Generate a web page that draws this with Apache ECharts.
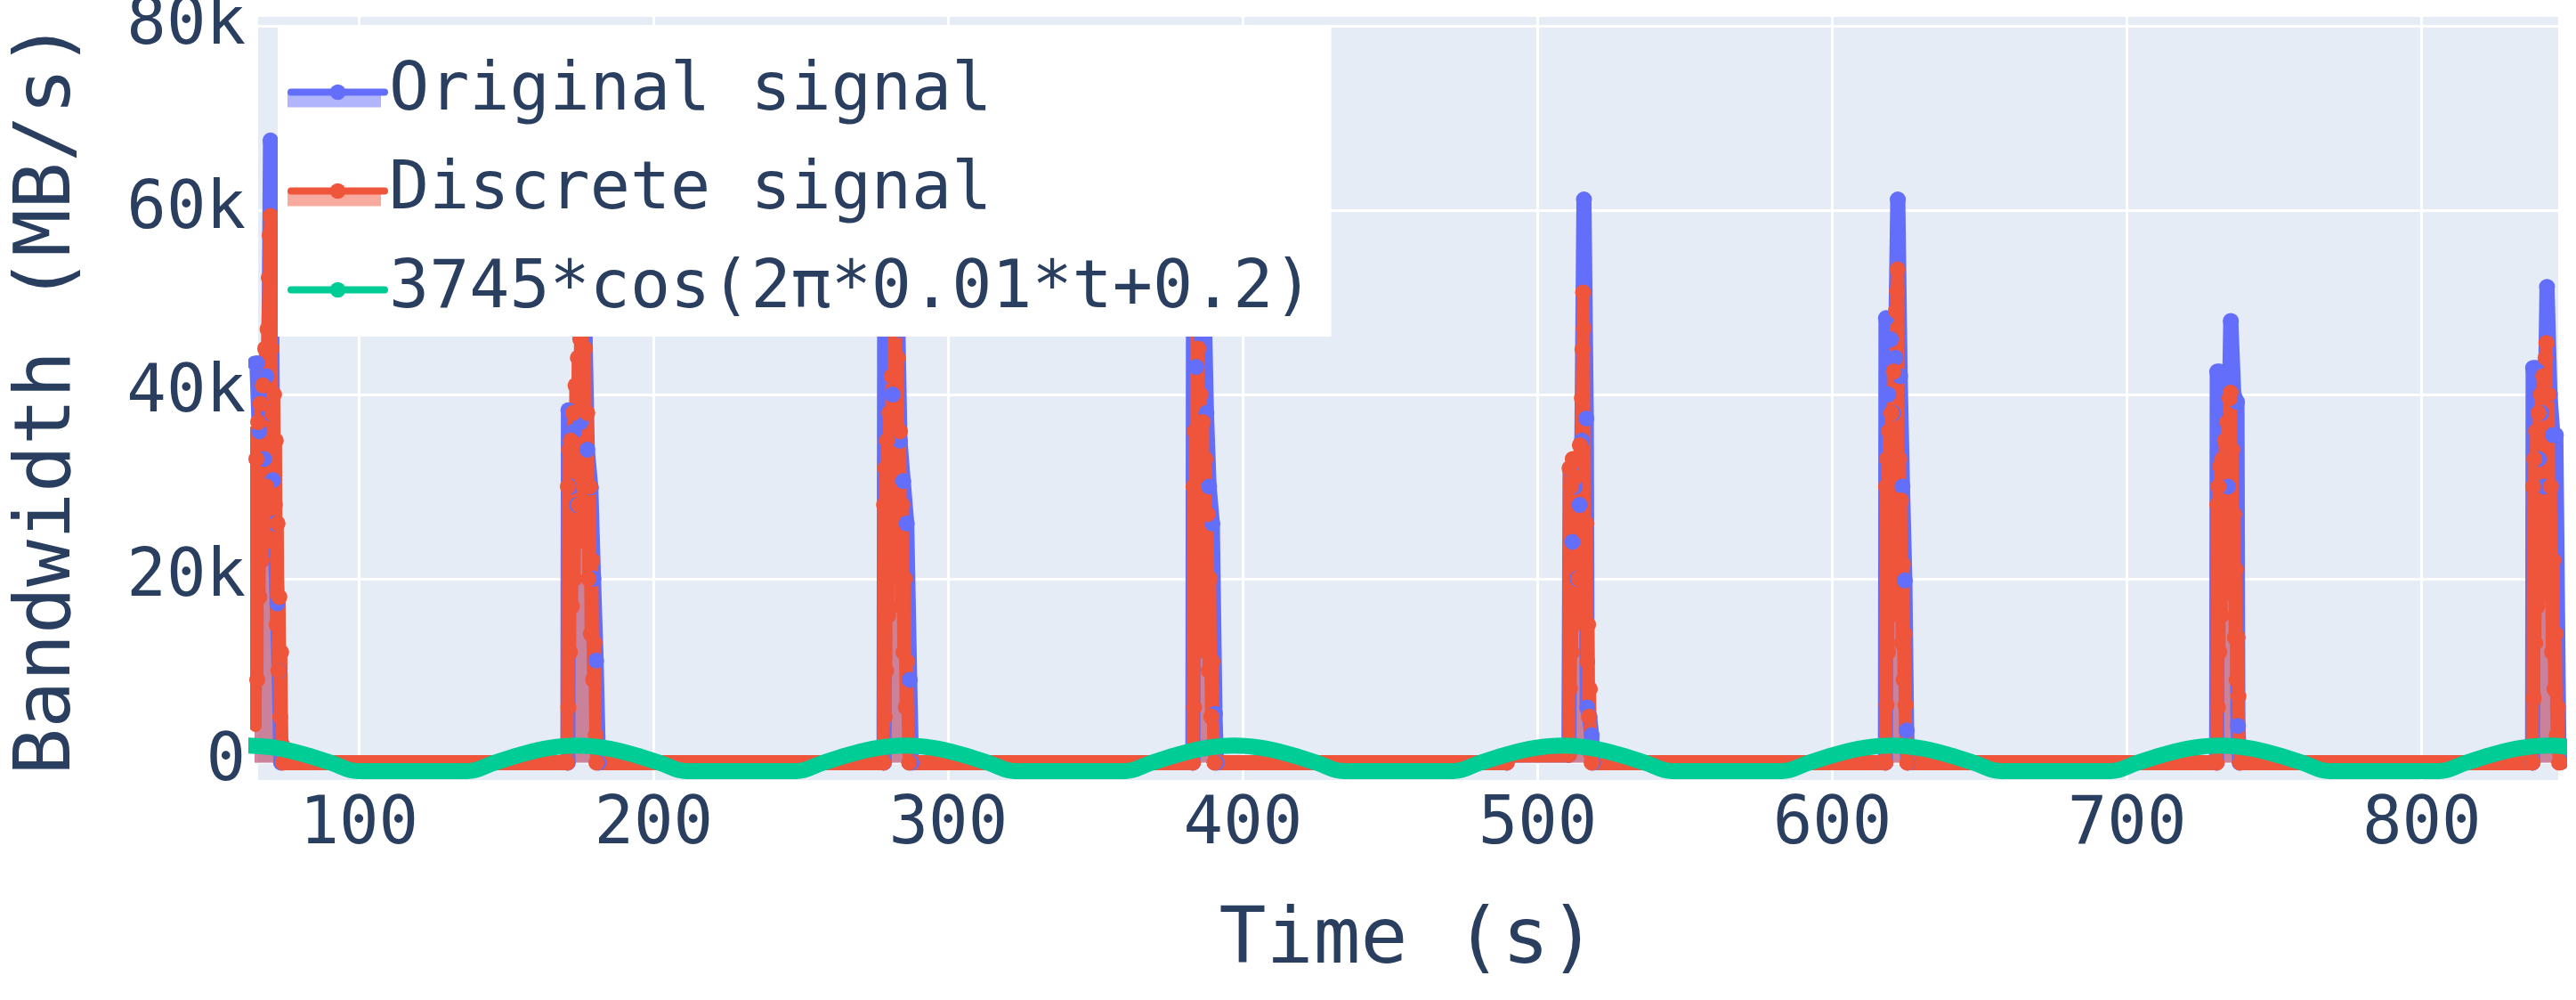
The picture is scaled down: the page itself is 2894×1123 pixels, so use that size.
<!DOCTYPE html>
<html><head><meta charset="utf-8">
<script src="https://cdn.jsdelivr.net/npm/echarts@6/dist/echarts.min.js"></script>
<style>html,body{margin:0;padding:0;background:#fff}#c{width:2894px;height:1123px}</style>
</head><body><div id="c"></div>
<script>
// ---- data (time in s, bandwidth in MB/s) ----
const seriesNames = ['Original signal', 'Discrete signal', '3745*cos(2π*0.01*t+0.2)'];

const originalSignal = [
  [64.6,43400],[65.4,43400],[66.2,36000],[67.0,40000],[67.8,33000],[68.6,42000],[69.3,38000],[70.0,67600],[70.8,30700],[71.4,26000],[72.3,17300],[72.9,10000],[73.6,0],
  [170.9,0],[171.1,38300],[172.0,30000],[173.0,36000],[174.0,28000],[175.2,37000],[176.4,52000],[177.5,34000],[178.7,29900],[179.6,20000],[180.5,11100],[181.3,0],
  [278.2,0],[278.4,48000],[279.3,42000],[280.2,53000],[281.1,40000],[282.0,56000],[282.9,47000],[283.6,35000],[284.7,30600],[285.9,26000],[286.9,9000],[287.5,0],
  [383.0,0],[383.2,50000],[384.1,43000],[385.0,57000],[385.9,46000],[386.7,52000],[387.6,38000],[388.5,30000],[389.6,26000],[390.5,5300],[391.0,0],
  [489.5,0],[489.8,850],[510.6,850],[511.0,31900],[511.8,24000],[512.6,30000],[513.4,20000],[514.2,28000],[515.0,35000],[515.7,61200],[516.5,37400],[516.8,6000],[517.6,5000],[518.3,3000],[518.8,0],
  [618.0,0],[618.2,48300],[619.0,40000],[619.8,46000],[620.6,38000],[621.4,44000],[622.2,61200],[623.0,42000],[623.8,30000],[624.6,19800],[625.2,3500],[625.6,0],
  [730.4,0],[730.6,42500],[731.4,42500],[732.3,33000],[733.2,40000],[734.2,30000],[735.2,48000],[736.2,40000],[737.3,39200],[737.6,4000],[738.2,0],
  [837.6,0],[837.8,42900],[838.8,42900],[839.7,33000],[840.6,38000],[841.5,30000],[842.5,51700],[843.5,40000],[844.5,35600],[845.5,35600],[846.5,2000],[847.2,0]
];

const discreteSignal = [
  [64.6,36000],[64.9,4000],[65.2,33000],[65.5,9000],[65.8,37000],[66.2,18000],[66.6,39000],[67.0,22000],[67.4,41000],[67.8,26000],[68.2,45000],[68.6,30000],[69.0,47100],[69.4,52700],[69.7,57300],[70.0,59400],[70.3,45000],[70.6,38000],[70.9,24000],[71.2,40000],[71.5,28000],[71.8,35000],[72.1,15000],[72.4,26000],[72.7,10000],[73.0,18000],[73.3,5000],[73.6,12000],[73.9,2000],[74.2,0],
  [170.7,0],[170.9,30000],[171.1,6000],[171.3,34000],[171.6,12000],[171.9,35000],[172.3,17000],[172.7,38000],[173.1,20000],[173.5,41000],[173.9,24000],[174.3,44000],[174.7,28000],[175.1,46000],[175.5,31000],[175.9,48000],[176.3,30000],[176.7,45000],[177.1,26000],[177.5,38000],[177.9,20000],[178.3,30000],[178.7,14000],[179.1,22000],[179.5,9000],[179.9,13000],[180.3,3000],[180.6,0],
  [278.0,0],[278.2,28000],[278.4,5000],[278.6,32000],[278.9,10000],[279.2,35000],[279.6,16000],[280.0,38000],[280.4,20000],[280.8,42000],[281.2,24000],[281.6,47000],[282.0,50000],[282.4,28000],[282.8,44000],[283.2,22000],[283.6,36000],[284.0,17000],[284.4,28000],[284.8,12000],[285.2,20000],[285.6,6000],[286.0,11000],[286.4,2000],[286.7,0],
  [383.0,0],[383.2,30000],[383.4,6000],[383.6,36000],[383.9,14000],[384.2,48000],[384.5,22000],[384.8,45000],[385.2,18000],[385.6,40000],[386.0,20000],[386.4,37000],[386.8,16000],[387.2,33000],[387.6,12000],[388.0,27000],[388.4,10000],[388.8,20000],[389.2,5000],[389.6,11000],[390.0,2000],[390.3,0],
  [489.5,0],[489.8,850],[510.6,850],[510.8,32000],[511.0,8100],[511.3,30000],[511.6,12000],[511.9,33000],[512.3,15000],[512.7,31000],[513.1,18000],[513.5,33000],[513.9,20000],[514.3,34500],[514.7,22000],[515.0,39600],[515.2,44900],[515.4,51100],[515.6,47200],[515.9,25000],[516.2,16000],[516.5,26000],[516.8,11000],[517.1,15000],[517.4,5000],[517.7,8000],[518.0,1000],[518.3,0],
  [618.0,0],[618.2,30000],[618.4,6300],[618.6,33000],[618.9,12000],[619.2,36000],[619.6,16000],[620.0,38000],[620.4,21600],[620.8,42500],[621.2,25000],[621.6,49100],[621.9,51200],[622.1,53600],[622.4,28500],[622.7,33000],[623.0,18000],[623.3,28500],[623.6,13000],[623.9,21600],[624.2,9000],[624.5,14000],[624.8,6300],[625.1,1500],[625.4,0],
  [730.4,0],[730.6,28000],[730.8,6000],[731.0,30000],[731.3,12000],[731.6,32200],[732.0,16000],[732.4,33000],[732.8,20000],[733.2,35000],[733.6,23400],[734.0,37000],[734.4,26000],[734.8,39600],[735.1,40200],[735.4,20000],[735.7,34000],[736.0,18300],[736.3,27000],[736.6,13600],[736.9,21000],[737.2,9000],[737.5,13600],[737.8,7200],[738.1,1500],[738.4,0],
  [837.6,0],[837.8,30000],[838.0,7000],[838.2,33000],[838.5,13000],[838.8,36000],[839.2,17000],[839.6,38000],[840.0,21000],[840.4,40000],[840.8,24000],[841.2,42000],[841.6,27000],[842.0,44000],[842.3,45600],[842.6,22000],[843.0,40000],[843.4,18000],[843.8,30000],[844.2,12000],[844.6,22000],[845.0,8000],[845.4,14000],[845.8,3000],[846.2,6000],[846.6,0],[847.2,0]
];

const cosineFit = [
  [62.5,1860],[71.8,1611],[81.1,930],[90.4,0],[99.7,-920],[118.3,-920],[136.8,-920],[146.1,0],[155.4,930],[164.7,1611],
  [174.0,1860],[183.3,1611],[192.6,930],[201.9,0],[211.2,-920],[229.8,-920],[248.3,-920],[257.6,0],[266.9,930],[276.2,1611],
  [285.5,1860],[294.8,1611],[304.1,930],[313.4,0],[322.7,-920],[341.3,-920],[359.8,-920],[369.1,0],[378.4,930],[387.7,1611],
  [397.0,1860],[406.3,1611],[415.6,930],[424.9,0],[434.2,-920],[452.8,-920],[471.3,-920],[480.6,0],[489.9,930],[499.2,1611],
  [508.5,1860],[517.8,1611],[527.1,930],[536.4,0],[545.7,-920],[564.3,-920],[582.8,-920],[592.1,0],[601.4,930],[610.7,1611],
  [620.0,1860],[629.3,1611],[638.6,930],[647.9,0],[657.2,-920],[675.8,-920],[694.3,-920],[703.6,0],[712.9,930],[722.2,1611],
  [731.5,1860],[740.8,1611],[750.1,930],[759.4,0],[768.7,-920],[787.3,-920],[805.8,-920],[815.1,0],[824.4,930],[833.7,1611],
  [843.0,1860],[852.3,1611]
];

const xRange = [65.2, 846.6];
const yRange = [-1984, 81229];

// ---- rendering ----
const FONT = 'DejaVu Sans Mono';
const TXT = '#2a3f5f';
const BLUE = '#636efa', RED = '#EF553B', GREEN = '#00cc96';

// low-level stretches of the discrete signal (drawn as the dense marker band)
const discreteBase = discreteSignal.map(p => p[1] <= 900 ? p : [p[0], '-']);

const chart = echarts.init(document.getElementById('c'), null, {renderer: 'canvas'});
chart.setOption({
  animation: false,
  backgroundColor: '#fff',
  grid: {left: 288, right: 19, top: 17, bottom: 246, show: true, backgroundColor: '#E5ECF6',
         borderWidth: 0, containLabel: false, outerBoundsMode: 'none'},
  xAxis: {
    type: 'value', min: xRange[0], max: xRange[1], splitNumber: 8,
    axisLine: {show: false}, axisTick: {show: false},
    splitLine: {show: true, lineStyle: {color: '#fff', width: 3}},
    axisLabel: {showMinLabel: false, showMaxLabel: false, margin: 14, fontFamily: FONT, fontSize: 74, color: TXT,
                formatter: v => String(Math.round(v))},
    name: 'Time (s)', nameLocation: 'middle', nameGap: 137,
    nameTextStyle: {fontFamily: FONT, fontSize: 88, color: TXT}
  },
  yAxis: {
    type: 'value', min: yRange[0], max: yRange[1], splitNumber: 4,
    axisLine: {show: false}, axisTick: {show: false},
    splitLine: {show: true, lineStyle: {color: '#fff', width: 3}},
    axisLabel: {showMinLabel: false, showMaxLabel: false, margin: 12, fontFamily: FONT, fontSize: 74, color: TXT,
                padding: [10, 0, 0, 0],
                formatter: v => v === 0 ? '0' : (Math.round(v / 1000) + 'k')},
    name: 'Bandwidth (MB/s)', nameLocation: 'middle', nameGap: 189,
    nameTextStyle: {fontFamily: FONT, fontSize: 88, color: TXT}
  },
  legend: [
    {
      id: 'main', left: 312, top: 28, orient: 'vertical', padding: [38, 20, 15, 11],
      itemWidth: 105, itemHeight: 22, itemGap: 36, backgroundColor: '#ffffff', z: 4,
      textStyle: {fontFamily: FONT, fontSize: 75, color: TXT},
      lineStyle: {width: 8},
      data: seriesNames
    },
    {
      id: 'band', left: 312, top: 36.5, orient: 'vertical', padding: [38, 0, 15, 11],
      itemWidth: 105, itemHeight: 17, itemGap: 36, selectedMode: false, z: 5,
      formatter: () => ' ',
      textStyle: {fontFamily: FONT, fontSize: 75, color: TXT},
      data: [
        {name: seriesNames[0], icon: 'rect', itemStyle: {opacity: 0.5, borderWidth: 0}},
        {name: seriesNames[1], icon: 'rect', itemStyle: {opacity: 0.5, borderWidth: 0}}
      ]
    }
  ],
  series: [
    {
      name: seriesNames[0], type: 'line', data: originalSignal,
      symbol: 'circle', symbolSize: 18, showSymbol: true, showAllSymbol: true,
      lineStyle: {width: 17, color: BLUE, cap: 'round', join: 'round'},
      itemStyle: {color: BLUE, borderWidth: 0},
      areaStyle: {color: BLUE, opacity: 0.5}, clip: true, z: 2
    },
    {
      name: seriesNames[1], type: 'line', data: discreteSignal,
      symbol: 'circle', symbolSize: 18, showSymbol: true, showAllSymbol: true,
      lineStyle: {width: 14, color: RED, cap: 'round', join: 'round'},
      itemStyle: {color: RED, borderWidth: 0},
      areaStyle: {color: RED, opacity: 0.5}, clip: true, z: 2
    },
    {
      name: seriesNames[1], type: 'line', data: discreteBase, symbol: 'none',
      lineStyle: {width: 17, color: RED, cap: 'round', join: 'round'},
      itemStyle: {color: RED}, clip: true, z: 2
    },
    {
      name: seriesNames[2], type: 'line', data: cosineFit, smooth: 0.4,
      symbol: 'circle', symbolSize: 18, showSymbol: false,
      lineStyle: {width: 18, color: GREEN, cap: 'round', join: 'round'},
      itemStyle: {color: GREEN}, clip: true, z: 3
    }
  ]
});
</script>
</body></html>
